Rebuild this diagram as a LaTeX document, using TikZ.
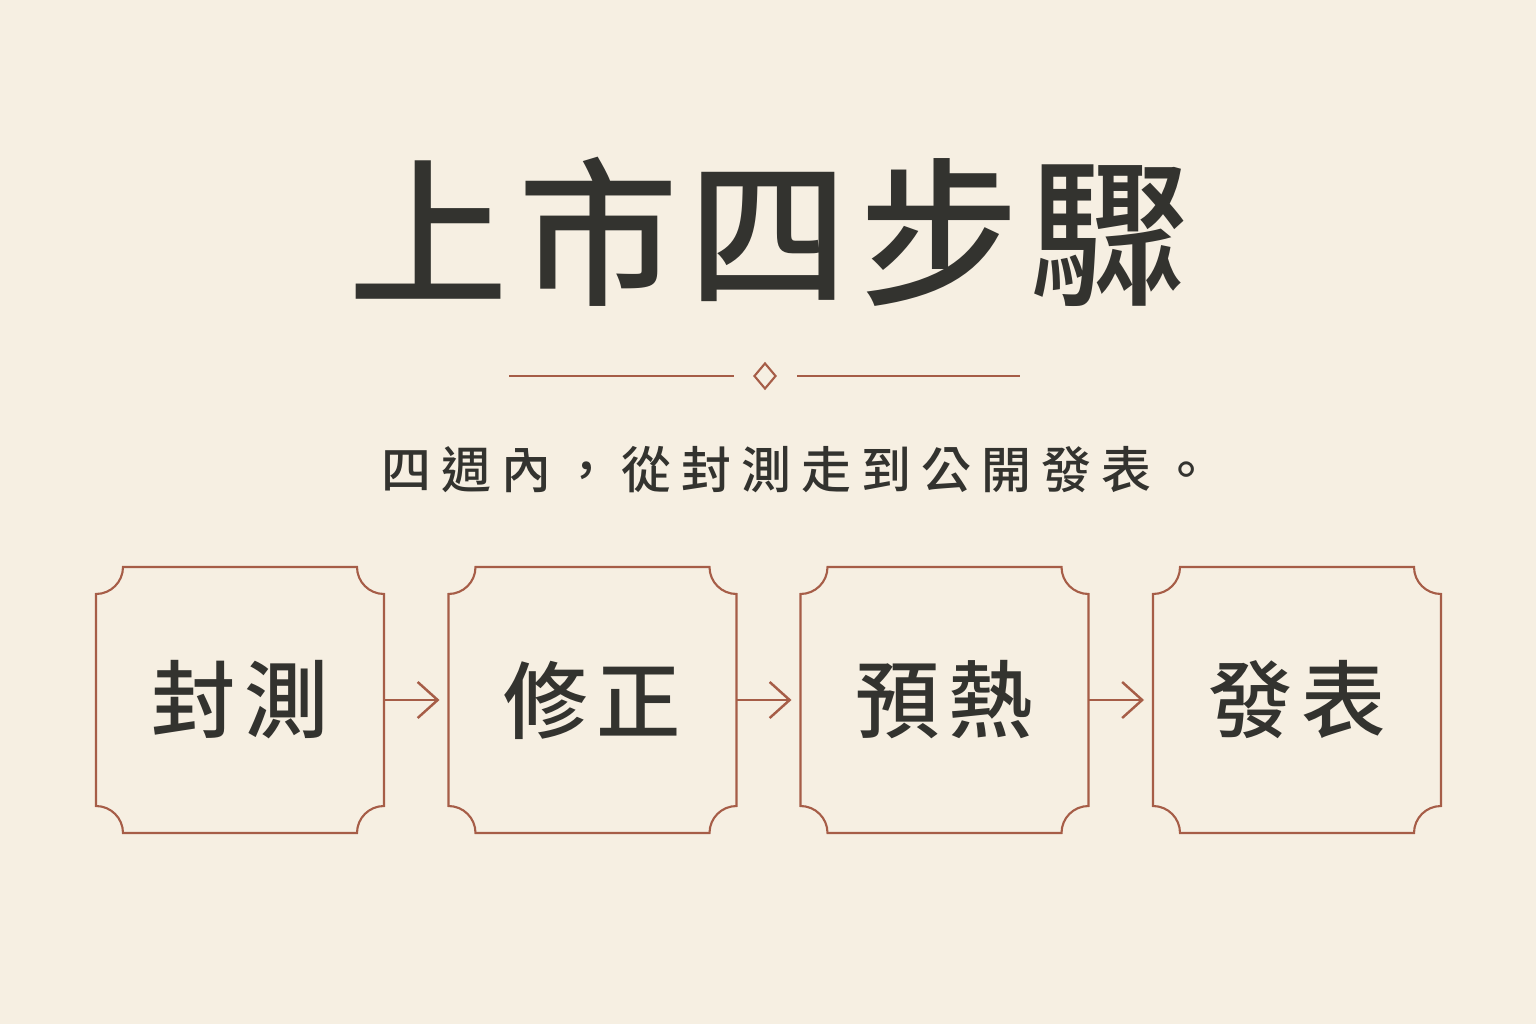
\documentclass[tikz,border=0pt]{standalone}
\usepackage{fontspec}
\usepackage{tikz}
\usetikzlibrary{arrows.meta,shapes.geometric,positioning}
\newfontfamily\cjk{Noto Sans CJK TC}
\newfontfamily\cjkmid{Noto Sans CJK TC Medium}
\definecolor{paper}{HTML}{F6EFE2}
\definecolor{rust}{HTML}{A65D47}
\definecolor{ink}{HTML}{33332F}

\tikzset{
  headline/.style={inner sep=0, text=ink, font=\cjkmid\fontsize{45.5pt}{50pt}\selectfont\addfontfeature{LetterSpace=6.5}},
  tagline/.style={inner sep=0, text=ink, font=\cjkmid\fontsize{14.2pt}{16pt}\selectfont\addfontfeature{LetterSpace=20.2}},
  stage/.style={rectangle, inner sep=0, outer sep=0, minimum width=2.88cm, minimum height=2.66cm, text=ink, font=\cjkmid\fontsize{24pt}{28pt}\selectfont\addfontfeature{LetterSpace=10.6}},
  gem/.style={diamond, draw=rust, line width=0.6pt, inner sep=0, minimum width=0.22cm, minimum height=0.26cm},
  rule/.style={draw=rust, line width=0.55pt},
  frame/.style={draw=rust, line width=0.6pt},
  flow/.style={draw=rust, line width=0.7pt, -{Straight Barb[length=0.2cm,width=0.36cm]}, shorten >=0.09cm}
}

\begin{document}
\begin{tikzpicture}
\path [fill=paper] (0,0) rectangle (15.36,10.24);

\node [headline] (title) at (7.69,7.92) {上市四步驟};

\node [gem] (gem) at (7.65,6.48) {};
\coordinate (ruleL) at (5.09,6.48);
\coordinate (ruleR) at (10.20,6.48);
\draw [rule] (ruleL) -- ([xshift=-0.19cm]gem.west);
\draw [rule] ([xshift=0.20cm]gem.east) -- (ruleR);

\node [tagline, anchor=west] (sub) at (3.81,5.54) {四週內，從封測走到公開發表。};

\node [stage] (s1) at (2.40,3.24) {封測};
\node [stage] (s2) at (5.925,3.24) {修正};
\node [stage] (s3) at (9.445,3.24) {預熱};
\node [stage] (s4) at (12.97,3.24) {發表};

\foreach \n in {s1,s2,s3,s4}
  \draw [frame] ([xshift=0.27cm]\n.north west) -- ([xshift=-0.27cm]\n.north east)
    arc [start angle=180, end angle=270, radius=0.27cm] -- ([yshift=0.27cm]\n.south east)
    arc [start angle=90, end angle=180, radius=0.27cm] -- ([xshift=0.27cm]\n.south west)
    arc [start angle=0, end angle=90, radius=0.27cm] -- ([yshift=-0.27cm]\n.north west)
    arc [start angle=270, end angle=360, radius=0.27cm] -- cycle;

\draw [flow] (s1.east) -- (s2.west);
\draw [flow] (s2.east) -- (s3.west);
\draw [flow] (s3.east) -- (s4.west);
\end{tikzpicture}
\end{document}
